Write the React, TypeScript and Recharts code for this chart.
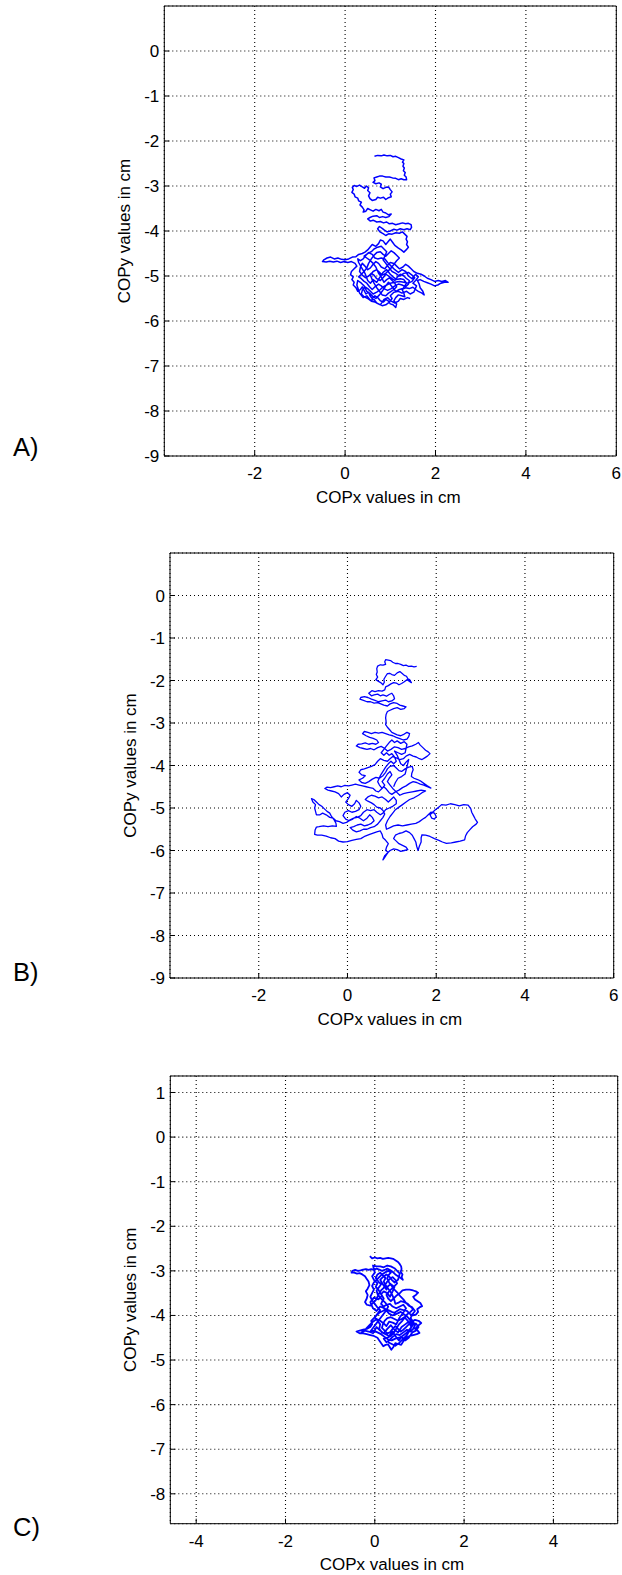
import { LineChart, Line, XAxis, YAxis, CartesianGrid } from 'recharts';

// COP trajectories, [COPx, COPy] in cm
const copA: [number, number][] = [
  [0.65, -2.34], [0.72, -2.32], [0.8, -2.33], [0.86, -2.31], [0.93, -2.33], [1.0, -2.32], [1.06, -2.35], [1.12, -2.34],
  [1.18, -2.37], [1.24, -2.4], [1.3, -2.42], [1.27, -2.47], [1.3, -2.5], [1.28, -2.56], [1.31, -2.6], [1.29, -2.66],
  [1.33, -2.7], [1.31, -2.76], [1.35, -2.8], [1.36, -2.86], [1.3, -2.86], [1.24, -2.84], [1.18, -2.86], [1.12, -2.83],
  [1.05, -2.82], [0.98, -2.8], [0.9, -2.8], [0.83, -2.78], [0.76, -2.78], [0.7, -2.8], [0.64, -2.82], [0.66, -2.88],
  [0.62, -2.92], [0.68, -2.95], [0.75, -2.93], [0.8, -2.96], [0.78, -3.02], [0.84, -3.06], [0.9, -3.03], [0.96, -3.02],
  [1.0, -3.08], [1.04, -3.13], [1.0, -3.18], [1.02, -3.24], [0.96, -3.26], [0.9, -3.3], [0.85, -3.25], [0.78, -3.27],
  [0.72, -3.25], [0.68, -3.3], [0.6, -3.32], [0.55, -3.28], [0.52, -3.22], [0.55, -3.15], [0.5, -3.1], [0.52, -3.04],
  [0.47, -3.0], [0.43, -3.05], [0.38, -3.02], [0.32, -2.98], [0.26, -3.01], [0.2, -2.99], [0.16, -3.03], [0.18, -3.08],
  [0.15, -3.14], [0.2, -3.18], [0.22, -3.24], [0.28, -3.27], [0.3, -3.33], [0.36, -3.36], [0.33, -3.42], [0.38, -3.47],
  [0.42, -3.53], [0.4, -3.58], [0.46, -3.56], [0.5, -3.5], [0.56, -3.53], [0.62, -3.56], [0.68, -3.52], [0.75, -3.55],
  [0.8, -3.52], [0.84, -3.58], [0.9, -3.6], [0.96, -3.64], [1.02, -3.62], [0.97, -3.68], [0.9, -3.7], [0.83, -3.68],
  [0.76, -3.7], [0.7, -3.66], [0.62, -3.67], [0.55, -3.7], [0.5, -3.73], [0.56, -3.78], [0.62, -3.76], [0.7, -3.8],
  [0.78, -3.79], [0.85, -3.82], [0.92, -3.8], [0.98, -3.84], [1.05, -3.83], [1.12, -3.86], [1.2, -3.84], [1.27, -3.82],
  [1.34, -3.84], [1.4, -3.83], [1.46, -3.86], [1.47, -3.92], [1.44, -3.97], [1.37, -3.95], [1.3, -3.97], [1.22, -3.95],
  [1.15, -3.98], [1.08, -3.96], [1.0, -4.0], [0.93, -4.02], [0.87, -3.98], [0.82, -3.94], [0.76, -3.9], [0.72, -3.95],
  [0.77, -4.02], [0.84, -4.06], [0.9, -4.1], [0.97, -4.06], [1.04, -4.07], [1.12, -4.04], [1.2, -4.05], [1.27, -4.02],
  [1.32, -4.07], [1.37, -4.12], [1.35, -4.18], [1.38, -4.24], [1.36, -4.3], [1.4, -4.36], [1.35, -4.42], [1.3, -4.47],
  [1.24, -4.42], [1.18, -4.38], [1.1, -4.32], [1.05, -4.25], [1.0, -4.18], [0.95, -4.24], [0.9, -4.3], [0.84, -4.22],
  [0.78, -4.2], [0.74, -4.28], [0.68, -4.34], [0.6, -4.3], [0.55, -4.36], [0.5, -4.42], [0.44, -4.47], [0.38, -4.5],
  [0.3, -4.52], [0.24, -4.57], [0.16, -4.58], [0.08, -4.62], [0.0, -4.64], [-0.08, -4.63], [-0.16, -4.6], [-0.24, -4.62],
  [-0.32, -4.58], [-0.4, -4.6], [-0.47, -4.64], [-0.5, -4.68], [-0.42, -4.69], [-0.34, -4.67], [-0.26, -4.69], [-0.18, -4.67],
  [-0.1, -4.7], [-0.02, -4.68], [0.06, -4.7], [0.14, -4.68], [0.22, -4.72], [0.26, -4.78], [0.2, -4.84], [0.14, -4.9],
  [0.12, -4.97], [0.18, -5.02], [0.15, -5.08], [0.2, -5.14], [0.18, -5.2], [0.24, -5.26], [0.28, -5.34], [0.34, -5.3],
  [0.38, -5.24], [0.42, -5.32], [0.46, -5.4], [0.52, -5.36], [0.55, -5.44], [0.6, -5.5], [0.66, -5.44], [0.72, -5.48],
  [0.78, -5.55], [0.85, -5.58], [0.9, -5.52], [0.96, -5.56], [1.0, -5.62], [1.06, -5.64], [1.12, -5.7], [1.14, -5.62],
  [1.08, -5.55], [1.12, -5.48], [1.18, -5.42], [1.25, -5.44], [1.32, -5.46], [1.3, -5.38], [1.26, -5.3], [1.34, -5.26],
  [1.42, -5.28], [1.5, -5.25], [1.56, -5.3], [1.62, -5.34], [1.7, -5.38], [1.75, -5.42], [1.72, -5.34], [1.66, -5.26],
  [1.64, -5.18], [1.6, -5.1], [1.66, -5.08], [1.74, -5.12], [1.82, -5.15], [1.9, -5.18], [1.98, -5.22], [2.05, -5.2],
  [2.12, -5.16], [2.2, -5.14], [2.28, -5.14], [2.22, -5.1], [2.14, -5.12], [2.06, -5.1], [1.98, -5.12], [1.9, -5.08],
  [1.82, -5.05], [1.75, -5.0], [1.68, -4.96], [1.6, -4.94], [1.52, -4.9], [1.46, -4.84], [1.4, -4.78], [1.34, -4.74],
  [1.28, -4.8], [1.2, -4.84], [1.14, -4.78], [1.08, -4.72], [1.0, -4.7], [0.94, -4.76], [0.88, -4.84], [0.8, -4.8],
  [0.74, -4.72], [0.68, -4.68], [0.62, -4.74], [0.56, -4.82], [0.5, -4.86], [0.44, -4.78], [0.38, -4.72], [0.34, -4.8],
  [0.32, -4.9], [0.38, -4.98], [0.45, -5.04], [0.52, -5.0], [0.58, -4.94], [0.64, -4.98], [0.7, -5.06], [0.78, -5.1],
  [0.84, -5.04], [0.9, -4.96], [0.96, -5.0], [1.04, -5.06], [1.1, -5.1], [1.16, -5.02], [1.22, -4.96], [1.3, -5.0],
  [1.36, -5.06], [1.42, -5.1], [1.4, -5.18], [1.34, -5.24], [1.26, -5.2], [1.18, -5.18], [1.1, -5.22], [1.02, -5.28],
  [0.94, -5.32], [0.86, -5.28], [0.8, -5.22], [0.74, -5.18], [0.66, -5.24], [0.6, -5.3], [0.54, -5.24], [0.48, -5.16],
  [0.42, -5.12], [0.36, -5.06], [0.3, -5.02], [0.36, -4.96], [0.42, -4.9], [0.48, -4.82], [0.52, -4.72], [0.58, -4.62],
  [0.64, -4.54], [0.7, -4.48], [0.78, -4.46], [0.84, -4.52], [0.9, -4.56], [0.96, -4.5], [1.02, -4.44], [1.08, -4.48],
  [1.14, -4.54], [1.2, -4.6], [1.14, -4.66], [1.08, -4.74], [1.02, -4.82], [0.96, -4.88], [0.9, -4.94], [0.82, -4.98],
  [0.76, -4.92], [0.7, -4.86], [0.62, -4.9], [0.56, -4.98], [0.6, -5.08], [0.64, -5.16], [0.7, -5.26], [0.76, -5.34],
  [0.82, -5.42], [0.9, -5.44], [0.96, -5.38], [1.02, -5.34], [1.08, -5.3], [1.14, -5.24], [1.1, -5.16], [1.04, -5.1],
  [0.98, -5.04], [0.92, -5.08], [0.86, -5.14], [0.8, -5.02], [0.74, -4.94], [0.68, -4.8], [0.62, -4.72], [0.56, -4.66],
  [0.48, -4.6], [0.42, -4.56], [0.5, -4.5], [0.58, -4.46], [0.64, -4.4], [0.72, -4.36], [0.8, -4.34], [0.86, -4.4],
  [0.92, -4.46], [0.88, -4.56], [0.84, -4.64], [0.9, -4.72], [0.96, -4.8], [1.04, -4.9], [1.12, -4.94], [1.2, -5.0],
  [1.3, -4.94], [1.4, -4.92], [1.48, -4.98], [1.54, -5.04], [1.48, -5.12], [1.4, -5.16], [1.3, -5.14], [1.2, -5.12],
  [1.1, -5.14], [1.0, -5.16], [0.92, -5.2], [0.84, -5.24], [0.78, -5.3], [0.7, -5.36], [0.62, -5.4], [0.56, -5.34],
  [0.5, -5.28], [0.44, -5.24], [0.38, -5.32], [0.36, -5.4], [0.42, -5.46], [0.5, -5.5], [0.58, -5.56], [0.66, -5.58],
  [0.74, -5.62], [0.82, -5.66], [0.9, -5.64], [0.98, -5.58], [1.04, -5.5], [1.0, -5.44], [1.08, -5.36], [1.18, -5.34],
  [1.26, -5.38], [1.36, -5.34], [1.44, -5.4], [1.52, -5.36], [1.58, -5.22], [1.5, -5.16], [1.56, -5.1], [1.62, -5.02],
  [1.56, -4.96], [1.48, -5.06], [1.4, -5.0], [1.34, -4.9], [1.26, -4.86], [1.18, -4.92], [1.1, -4.86], [1.02, -4.78],
  [0.94, -4.7], [0.88, -4.62], [0.8, -4.6], [0.72, -4.62], [0.66, -4.6], [0.6, -4.52], [0.52, -4.48], [0.46, -4.54],
  [0.4, -4.62], [0.34, -4.66], [0.28, -4.62], [0.3, -4.7], [0.38, -4.84], [0.44, -4.94], [0.5, -5.1], [0.56, -5.16],
  [0.62, -5.08], [0.7, -5.14], [0.76, -5.04], [0.84, -4.92], [0.92, -4.86], [1.0, -4.96], [1.06, -5.02], [1.14, -5.08],
  [1.22, -5.06], [1.3, -5.08], [1.36, -5.16], [1.28, -5.28], [1.2, -5.3], [1.12, -5.34], [1.04, -5.24], [0.96, -5.14],
  [0.9, -5.22], [0.82, -5.34], [0.76, -5.42], [0.68, -5.5], [0.62, -5.46], [0.54, -5.38], [0.48, -5.34], [0.42, -5.22],
  [0.36, -5.16], [0.28, -5.1], [0.26, -5.2], [0.32, -5.38], [0.4, -5.48], [0.48, -5.44], [0.56, -5.54], [0.64, -5.52],
  [0.7, -5.6], [0.78, -5.64], [0.86, -5.52], [0.94, -5.48], [1.02, -5.56], [1.1, -5.6], [1.18, -5.56], [1.22, -5.5],
  [1.3, -5.52], [1.38, -5.48], [1.44, -5.5],
];

const copB: [number, number][] = [
  [1.56, -1.67], [1.5, -1.68], [1.44, -1.66], [1.38, -1.67], [1.32, -1.64], [1.26, -1.65], [1.2, -1.62], [1.14, -1.6],
  [1.08, -1.6], [1.02, -1.57], [0.97, -1.53], [0.92, -1.52], [0.86, -1.51], [0.84, -1.56], [0.86, -1.62], [0.8, -1.64],
  [0.74, -1.63], [0.68, -1.66], [0.66, -1.72], [0.67, -1.8], [0.65, -1.86], [0.68, -1.92], [0.64, -1.98], [0.7, -2.02],
  [0.76, -2.06], [0.8, -2.1], [0.83, -2.04], [0.82, -1.97], [0.86, -1.9], [0.9, -1.84], [0.95, -1.83], [1.0, -1.86],
  [1.06, -1.88], [1.12, -1.82], [1.18, -1.79], [1.24, -1.84], [1.28, -1.88], [1.33, -1.9], [1.36, -1.96], [1.4, -1.98],
  [1.44, -2.05], [1.4, -2.02], [1.34, -1.98], [1.28, -2.03], [1.22, -2.07], [1.16, -2.1], [1.1, -2.06], [1.04, -2.05],
  [0.98, -2.08], [0.92, -2.12], [0.86, -2.15], [0.84, -2.22], [0.78, -2.25], [0.7, -2.24], [0.62, -2.26], [0.55, -2.24],
  [0.48, -2.3], [0.54, -2.36], [0.6, -2.34], [0.68, -2.32], [0.74, -2.36], [0.8, -2.34], [0.88, -2.37], [0.94, -2.33],
  [1.0, -2.3], [1.04, -2.36], [1.06, -2.43], [1.0, -2.48], [0.92, -2.5], [0.86, -2.46], [0.78, -2.48], [0.7, -2.5],
  [0.62, -2.47], [0.54, -2.44], [0.46, -2.4], [0.38, -2.38], [0.3, -2.4], [0.28, -2.44], [0.36, -2.47], [0.44, -2.5],
  [0.52, -2.5], [0.6, -2.53], [0.68, -2.52], [0.75, -2.55], [0.82, -2.58], [0.9, -2.6], [0.96, -2.55], [1.04, -2.52],
  [1.12, -2.54], [1.18, -2.58], [1.25, -2.6], [1.32, -2.62], [1.28, -2.66], [1.2, -2.68], [1.12, -2.64], [1.04, -2.66],
  [0.96, -2.7], [0.9, -2.73], [0.87, -2.8], [0.86, -2.88], [0.87, -2.96], [0.86, -3.04], [0.9, -3.1], [0.95, -3.16],
  [1.0, -3.22], [1.06, -3.25], [1.12, -3.28], [1.2, -3.3], [1.28, -3.26], [1.34, -3.22], [1.4, -3.25], [1.38, -3.32],
  [1.34, -3.38], [1.26, -3.4], [1.18, -3.37], [1.1, -3.34], [1.02, -3.3], [0.94, -3.28], [0.86, -3.25], [0.78, -3.22],
  [0.7, -3.24], [0.62, -3.22], [0.54, -3.25], [0.46, -3.22], [0.38, -3.2], [0.34, -3.25], [0.42, -3.3], [0.5, -3.34],
  [0.58, -3.36], [0.66, -3.4], [0.7, -3.46], [0.64, -3.5], [0.56, -3.48], [0.48, -3.5], [0.4, -3.47], [0.32, -3.49],
  [0.24, -3.5], [0.2, -3.54], [0.28, -3.58], [0.36, -3.6], [0.44, -3.62], [0.52, -3.6], [0.6, -3.63], [0.68, -3.58],
  [0.76, -3.55], [0.84, -3.6], [0.9, -3.66], [0.98, -3.62], [1.06, -3.56], [1.14, -3.58], [1.22, -3.62], [1.3, -3.6],
  [1.38, -3.56], [1.46, -3.54], [1.54, -3.5], [1.6, -3.46], [1.64, -3.52], [1.7, -3.58], [1.76, -3.64], [1.82, -3.68],
  [1.86, -3.72], [1.8, -3.78], [1.74, -3.82], [1.68, -3.86], [1.62, -3.84], [1.55, -3.8], [1.48, -3.78], [1.4, -3.74],
  [1.32, -3.78], [1.26, -3.84], [1.18, -3.86], [1.1, -3.82], [1.02, -3.79], [0.96, -3.84], [0.9, -3.9], [0.82, -3.88],
  [0.74, -3.84], [0.68, -3.9], [0.62, -3.98], [0.54, -4.02], [0.46, -4.05], [0.38, -4.08], [0.3, -4.1], [0.26, -4.16],
  [0.32, -4.22], [0.4, -4.24], [0.34, -4.3], [0.26, -4.34], [0.32, -4.4], [0.4, -4.42], [0.48, -4.38], [0.56, -4.32],
  [0.64, -4.28], [0.72, -4.3], [0.8, -4.24], [0.86, -4.16], [0.9, -4.08], [0.96, -4.02], [1.04, -4.0], [1.1, -4.06],
  [1.16, -4.12], [1.22, -4.14], [1.3, -4.08], [1.38, -4.04], [1.46, -4.02], [1.48, -4.1], [1.45, -4.18], [1.44, -4.26],
  [1.5, -4.3], [1.58, -4.33], [1.64, -4.36], [1.72, -4.42], [1.8, -4.48], [1.88, -4.53], [1.8, -4.5], [1.72, -4.46],
  [1.64, -4.44], [1.56, -4.4], [1.48, -4.38], [1.4, -4.42], [1.32, -4.48], [1.24, -4.52], [1.16, -4.58], [1.08, -4.62],
  [1.0, -4.68], [0.94, -4.64], [0.88, -4.56], [0.82, -4.5], [0.76, -4.56], [0.7, -4.62], [0.64, -4.6], [0.58, -4.54],
  [0.5, -4.52], [0.42, -4.5], [0.34, -4.48], [0.26, -4.46], [0.18, -4.44], [0.1, -4.46], [0.02, -4.48], [-0.06, -4.47],
  [-0.14, -4.5], [-0.22, -4.48], [-0.3, -4.5], [-0.38, -4.52], [-0.46, -4.51], [-0.51, -4.54], [-0.44, -4.58], [-0.36, -4.6],
  [-0.28, -4.62], [-0.2, -4.66], [-0.14, -4.74], [-0.08, -4.68], [0.0, -4.64], [0.06, -4.7], [0.02, -4.78], [-0.04, -4.86],
  [0.02, -4.92], [0.1, -4.96], [0.16, -4.9], [0.2, -4.82], [0.26, -4.88], [0.3, -4.96], [0.26, -5.04], [0.18, -5.08],
  [0.1, -5.1], [0.02, -5.06], [-0.06, -5.1], [-0.1, -5.18], [-0.04, -5.26], [0.04, -5.3], [0.12, -5.26], [0.2, -5.2],
  [0.28, -5.24], [0.36, -5.3], [0.44, -5.24], [0.5, -5.16], [0.56, -5.22], [0.6, -5.3], [0.54, -5.36], [0.46, -5.4],
  [0.38, -5.42], [0.3, -5.38], [0.22, -5.4], [0.14, -5.44], [0.06, -5.46], [0.12, -5.52], [0.2, -5.56], [0.28, -5.54],
  [0.36, -5.5], [0.44, -5.5], [0.52, -5.46], [0.6, -5.44], [0.68, -5.38], [0.74, -5.3], [0.8, -5.22], [0.84, -5.14],
  [0.8, -5.06], [0.74, -5.0], [0.66, -4.98], [0.6, -4.92], [0.54, -4.88], [0.46, -4.84], [0.4, -4.8], [0.46, -4.74],
  [0.54, -4.7], [0.62, -4.72], [0.7, -4.76], [0.78, -4.74], [0.86, -4.8], [0.92, -4.86], [0.98, -4.8], [1.04, -4.74],
  [1.1, -4.82], [1.1, -4.9], [1.02, -4.96], [0.94, -5.0], [0.86, -5.04], [0.8, -5.12], [0.74, -5.16], [0.66, -5.1],
  [0.6, -5.04], [0.52, -5.06], [0.44, -5.04], [0.36, -5.1], [0.3, -5.18], [0.22, -5.22], [0.14, -5.24], [0.06, -5.28],
  [-0.02, -5.34], [-0.1, -5.36], [-0.18, -5.32], [-0.26, -5.3], [-0.32, -5.24], [-0.4, -5.22], [-0.48, -5.16], [-0.56, -5.12],
  [-0.62, -5.16], [-0.7, -5.16], [-0.72, -5.08], [-0.74, -5.0], [-0.72, -4.92], [-0.78, -4.86], [-0.81, -4.78], [-0.76, -4.8],
  [-0.7, -4.86], [-0.64, -4.92], [-0.58, -4.96], [-0.52, -5.02], [-0.46, -5.08], [-0.4, -5.12], [-0.36, -5.2], [-0.3, -5.28],
  [-0.26, -5.36], [-0.25, -5.43], [-0.34, -5.42], [-0.44, -5.44], [-0.54, -5.42], [-0.64, -5.44], [-0.7, -5.45], [-0.73, -5.52],
  [-0.74, -5.62], [-0.68, -5.64], [-0.58, -5.64], [-0.48, -5.66], [-0.38, -5.7], [-0.28, -5.72], [-0.2, -5.78], [-0.1, -5.8],
  [0.0, -5.79], [0.1, -5.76], [0.2, -5.74], [0.3, -5.72], [0.4, -5.66], [0.5, -5.62], [0.58, -5.59], [0.66, -5.56],
  [0.74, -5.54], [0.78, -5.62], [0.8, -5.7], [0.86, -5.76], [0.92, -5.84], [0.88, -5.92], [0.86, -6.0], [0.92, -6.04],
  [0.88, -6.1], [0.84, -6.16], [0.8, -6.22], [0.84, -6.12], [0.9, -6.06], [0.96, -6.0], [1.04, -5.96], [1.12, -5.98],
  [1.2, -6.02], [1.28, -6.0], [1.36, -5.98], [1.32, -5.92], [1.24, -5.88], [1.16, -5.84], [1.1, -5.78], [1.04, -5.72],
  [1.08, -5.64], [1.16, -5.6], [1.24, -5.58], [1.32, -5.54], [1.4, -5.58], [1.46, -5.64], [1.5, -5.72], [1.54, -5.8],
  [1.56, -5.9], [1.59, -6.0], [1.62, -5.9], [1.66, -5.8], [1.66, -5.7], [1.68, -5.63], [1.76, -5.64], [1.86, -5.67],
  [1.96, -5.72], [2.06, -5.76], [2.14, -5.8], [2.23, -5.83], [2.34, -5.82], [2.44, -5.8], [2.54, -5.78], [2.64, -5.75],
  [2.66, -5.66], [2.7, -5.58], [2.76, -5.51], [2.82, -5.44], [2.9, -5.38], [2.93, -5.34], [2.88, -5.26], [2.84, -5.18],
  [2.8, -5.1], [2.78, -5.02], [2.72, -4.93], [2.62, -4.92], [2.52, -4.95], [2.42, -4.92], [2.32, -4.9], [2.22, -4.93],
  [2.12, -4.92], [2.06, -4.98], [1.98, -5.04], [1.92, -5.1], [1.86, -5.16], [1.9, -5.24], [1.96, -5.26], [2.0, -5.2],
  [1.96, -5.12], [1.88, -5.1], [1.82, -5.16], [1.76, -5.22], [1.7, -5.26], [1.62, -5.32], [1.54, -5.36], [1.44, -5.38],
  [1.34, -5.4], [1.24, -5.42], [1.14, -5.4], [1.04, -5.42], [0.96, -5.46], [0.88, -5.5], [0.86, -5.4], [0.9, -5.3],
  [0.96, -5.2], [1.02, -5.12], [1.08, -5.04], [1.16, -4.98], [1.24, -4.92], [1.32, -4.86], [1.4, -4.8], [1.5, -4.76],
  [1.6, -4.7], [1.68, -4.64], [1.76, -4.6], [1.66, -4.58], [1.56, -4.6], [1.46, -4.62], [1.36, -4.64], [1.26, -4.66],
  [1.18, -4.7], [1.1, -4.62], [1.02, -4.54], [0.96, -4.46], [0.9, -4.38], [0.94, -4.3], [1.0, -4.22], [0.96, -4.14],
  [0.9, -4.2], [0.84, -4.3], [0.78, -4.38], [0.84, -4.46], [0.78, -4.54], [0.72, -4.46], [0.68, -4.38], [0.74, -4.24],
  [0.8, -4.14], [0.86, -4.04], [0.92, -3.96], [0.98, -3.9], [1.04, -3.96], [1.1, -3.9], [1.06, -3.8], [1.0, -3.72],
  [0.94, -3.76], [0.88, -3.7], [0.82, -3.76], [0.76, -3.7], [0.82, -3.62], [0.88, -3.54], [0.94, -3.46], [1.0, -3.4],
  [1.06, -3.46], [1.12, -3.42], [1.2, -3.48], [1.28, -3.44], [1.34, -3.5], [1.3, -3.7], [1.22, -3.74], [1.14, -3.7],
  [1.06, -3.66], [1.12, -3.76], [1.2, -3.96], [1.26, -4.0], [1.32, -3.92], [1.38, -3.86], [1.3, -4.2], [1.22, -4.26],
  [1.14, -4.3], [1.08, -4.4], [1.04, -4.5],
];

const copC: [number, number][] = [
  [-0.11, -2.67], [-0.06, -2.72], [0.0, -2.7], [0.06, -2.72], [0.12, -2.71], [0.18, -2.73], [0.24, -2.72], [0.3, -2.71],
  [0.36, -2.72], [0.41, -2.73], [0.46, -2.76], [0.52, -2.8], [0.56, -2.85], [0.59, -2.9], [0.6, -2.96], [0.58, -3.02],
  [0.62, -3.08], [0.6, -3.14], [0.63, -3.2], [0.58, -3.16], [0.52, -3.12], [0.46, -3.08], [0.4, -3.02], [0.34, -2.98],
  [0.28, -2.95], [0.22, -2.98], [0.16, -3.0], [0.1, -2.97], [0.04, -2.95], [-0.02, -2.98], [-0.08, -2.96], [-0.14, -2.98],
  [-0.2, -2.96], [-0.26, -2.97], [-0.32, -2.99], [-0.38, -3.0], [-0.44, -2.98], [-0.5, -3.0], [-0.52, -3.04], [-0.46, -3.04],
  [-0.4, -3.06], [-0.34, -3.05], [-0.28, -3.08], [-0.22, -3.12], [-0.18, -3.18], [-0.14, -3.24], [-0.12, -3.32], [-0.16, -3.4],
  [-0.2, -3.46], [-0.16, -3.54], [-0.18, -3.62], [-0.22, -3.7], [-0.18, -3.76], [-0.1, -3.78], [-0.04, -3.72], [0.02, -3.66],
  [0.06, -3.58], [0.1, -3.5], [0.14, -3.44], [0.2, -3.38], [0.24, -3.3], [0.28, -3.24], [0.34, -3.18], [0.4, -3.14],
  [0.46, -3.2], [0.5, -3.28], [0.44, -3.34], [0.38, -3.4], [0.32, -3.46], [0.26, -3.54], [0.3, -3.62], [0.36, -3.68],
  [0.42, -3.62], [0.48, -3.56], [0.56, -3.5], [0.62, -3.44], [0.7, -3.42], [0.78, -3.42], [0.86, -3.44], [0.92, -3.46],
  [0.97, -3.49], [0.92, -3.54], [0.86, -3.58], [0.9, -3.64], [0.96, -3.68], [1.02, -3.72], [1.06, -3.79], [1.0, -3.82],
  [0.95, -3.86], [0.97, -3.92], [0.92, -3.98], [0.85, -4.0], [0.78, -3.96], [0.72, -3.9], [0.64, -3.88], [0.56, -3.86],
  [0.5, -3.9], [0.44, -3.94], [0.38, -3.92], [0.3, -3.88], [0.24, -3.86], [0.18, -3.9], [0.1, -3.94], [0.04, -4.0],
  [-0.02, -4.06], [-0.08, -4.12], [-0.06, -4.2], [-0.1, -4.26], [-0.18, -4.3], [-0.26, -4.32], [-0.34, -4.34], [-0.41, -4.36],
  [-0.34, -4.4], [-0.26, -4.4], [-0.18, -4.42], [-0.1, -4.44], [-0.02, -4.46], [0.06, -4.5], [0.1, -4.56], [0.14, -4.62],
  [0.19, -4.69], [0.24, -4.66], [0.3, -4.65], [0.34, -4.72], [0.37, -4.77], [0.42, -4.7], [0.46, -4.62], [0.52, -4.64],
  [0.59, -4.66], [0.64, -4.58], [0.7, -4.5], [0.78, -4.46], [0.86, -4.44], [0.94, -4.42], [1.0, -4.39], [0.96, -4.34],
  [0.9, -4.3], [0.96, -4.24], [1.04, -4.17], [0.98, -4.12], [0.9, -4.1], [0.82, -4.14], [0.76, -4.2], [0.7, -4.26],
  [0.64, -4.32], [0.58, -4.36], [0.52, -4.3], [0.46, -4.24], [0.4, -4.3], [0.34, -4.38], [0.28, -4.4], [0.22, -4.34],
  [0.16, -4.28], [0.18, -4.2], [0.22, -4.12], [0.28, -4.06], [0.36, -4.04], [0.44, -4.08], [0.52, -4.12], [0.6, -4.08],
  [0.66, -4.04], [0.72, -4.1], [0.78, -4.18], [0.82, -4.26], [0.76, -4.34], [0.7, -4.4], [0.62, -4.46], [0.54, -4.5],
  [0.46, -4.52], [0.38, -4.56], [0.3, -4.54], [0.22, -4.48], [0.14, -4.42], [0.06, -4.38], [-0.02, -4.34], [-0.1, -4.36],
  [-0.04, -4.28], [0.02, -4.2], [0.08, -4.12], [0.14, -4.04], [0.2, -3.96], [0.26, -3.88], [0.3, -3.8], [0.24, -3.72],
  [0.18, -3.66], [0.12, -3.6], [0.06, -3.52], [0.04, -3.44], [0.1, -3.36], [0.14, -3.3], [0.08, -3.24], [0.02, -3.16],
  [0.06, -3.08], [0.12, -3.04], [0.18, -3.1], [0.24, -3.16], [0.2, -3.24], [0.24, -3.32], [0.3, -3.4], [0.36, -3.48],
  [0.4, -3.56], [0.44, -3.66], [0.46, -3.74], [0.52, -3.72], [0.58, -3.68], [0.66, -3.7], [0.74, -3.74], [0.8, -3.8],
  [0.86, -3.86], [0.8, -3.92], [0.72, -3.98], [0.66, -4.06], [0.6, -4.14], [0.54, -4.2], [0.48, -4.3], [0.42, -4.4],
  [0.36, -4.46], [0.28, -4.5], [0.2, -4.52], [0.26, -4.6], [0.32, -4.56], [0.4, -4.48], [0.48, -4.42], [0.56, -4.44],
  [0.64, -4.38], [0.72, -4.32], [0.8, -4.36], [0.86, -4.3], [0.9, -4.22], [0.86, -4.14], [0.8, -4.06], [0.84, -3.98],
  [0.9, -3.9], [0.84, -3.82], [0.76, -3.78], [0.7, -3.72], [0.64, -3.64], [0.58, -3.58], [0.5, -3.48], [0.44, -3.42],
  [0.38, -3.34], [0.32, -3.26], [0.28, -3.18], [0.3, -3.1], [0.36, -3.04], [0.3, -3.0], [0.22, -3.04], [0.16, -3.08],
  [0.1, -3.14], [0.04, -3.2], [-0.02, -3.26], [-0.06, -3.34], [-0.02, -3.42], [-0.06, -3.5], [-0.1, -3.58], [-0.06, -3.66],
  [0.0, -3.74], [0.06, -3.82], [0.12, -3.88], [0.06, -3.96], [0.0, -4.04], [0.06, -4.12], [0.12, -4.2], [0.1, -4.3],
  [0.16, -4.38], [0.24, -4.42], [0.32, -4.46], [0.4, -4.36], [0.46, -4.46], [0.54, -4.56], [0.6, -4.48], [0.68, -4.56],
  [0.76, -4.5], [0.84, -4.38], [0.92, -4.34], [0.98, -4.26], [0.92, -4.18], [0.84, -4.22], [0.76, -4.14], [0.68, -4.2],
  [0.6, -4.26], [0.52, -4.38], [0.44, -4.32], [0.36, -4.22], [0.28, -4.3], [0.2, -4.4], [0.12, -4.34], [0.04, -4.26],
  [-0.04, -4.4], [-0.14, -4.36], [-0.22, -4.34], [-0.3, -4.38], [-0.2, -4.3], [-0.12, -4.22], [-0.04, -4.14], [0.04, -4.08],
  [0.12, -4.12], [0.2, -4.18], [0.26, -4.24], [0.32, -4.14], [0.4, -4.16], [0.48, -4.2], [0.56, -4.04], [0.62, -3.96],
  [0.7, -3.84], [0.64, -3.76], [0.56, -3.8], [0.48, -3.84], [0.4, -3.8], [0.34, -3.74], [0.26, -3.76], [0.2, -3.8],
  [0.14, -3.74], [0.2, -3.62], [0.14, -3.52], [0.2, -3.46], [0.28, -3.5], [0.34, -3.58], [0.4, -3.46], [0.44, -3.36],
  [0.36, -3.3], [0.3, -3.34], [0.26, -3.42], [0.18, -3.3], [0.12, -3.2], [0.18, -3.14], [0.26, -3.08], [0.32, -3.12],
  [0.38, -3.2], [0.44, -3.26], [0.52, -3.2], [0.56, -3.06], [0.5, -3.0], [0.44, -2.94], [0.36, -2.9], [0.28, -2.88],
  [0.2, -2.92], [0.12, -2.9], [0.04, -2.9], [-0.04, -2.88], [0.0, -3.04], [-0.06, -3.12], [-0.02, -3.2], [0.06, -3.28],
  [0.02, -3.36], [0.08, -3.42], [0.16, -3.56], [0.08, -3.64], [-0.02, -3.6], [-0.1, -3.7], [-0.04, -3.84], [0.04, -3.9],
  [0.12, -3.8], [0.22, -3.84], [0.32, -3.96], [0.4, -4.0], [0.5, -3.96], [0.58, -3.92], [0.66, -3.98], [0.74, -4.04],
  [0.8, -4.12], [0.86, -4.2], [0.8, -4.3], [0.72, -4.44], [0.64, -4.52], [0.54, -4.62], [0.46, -4.68], [0.38, -4.64],
  [0.3, -4.6],
];

const xTicksAB = [-2, 0, 2, 4, 6];
const yTicksAB = [0, -1, -2, -3, -4, -5, -6, -7, -8, -9];
const xTicksC = [-4, -2, 0, 2, 4];
const yTicksC = [1, 0, -1, -2, -3, -4, -5, -6, -7, -8];

const FONT = 'Liberation Sans, Arial, sans-serif';
const PAGE_W = 622;

type PanelProps = {
  data: [number, number][];
  xDomain: [number, number];
  yDomain: [number, number];
  xTicks: number[];
  yTicks: number[];
  left: number;
  top: number;
  w: number;
  h: number;
  letter: string;
  letterTop: number;
  lineW: number;
};

function Panel({ data, xDomain, yDomain, xTicks, yTicks, left, top, w, h, letter, letterTop, lineW }: PanelProps) {
  const rows = data.map(([x, y]) => ({ x, y }));
  const axisCommon = { stroke: '#000', strokeWidth: 1, allowDataOverflow: true, interval: 0 as const };
  return (
    <>
      <div style={{ position: 'absolute', left: 13, top: letterTop, fontFamily: FONT, fontSize: 25.5, lineHeight: 1, color: '#000' }}>
        {letter}
      </div>
      <div style={{ position: 'absolute', left: 0, top: top - 10 }}>
        <LineChart
          width={PAGE_W}
          height={h + 80}
          data={rows}
          margin={{ top: 9, right: PAGE_W - left - w - 1, bottom: 10, left: 0 }}
        >
          <CartesianGrid stroke="#000" strokeWidth={1.1} strokeDasharray="1 3" />
          <XAxis
            {...axisCommon}
            dataKey="x"
            type="number"
            domain={xDomain}
            ticks={xTicks}
            height={60}
            tickSize={-5}
            tickMargin={16}
            tick={{ fontSize: 17, fill: '#000', fontFamily: FONT }}
            label={{
              content: ({ viewBox }: any) => (
                <text x={viewBox.x + viewBox.width / 2 - 2} y={viewBox.y + 41} textAnchor="middle" dominantBaseline="central" fontSize={17} fontFamily={FONT} fill="#000">
                  COPx values in cm
                </text>
              ),
            }}
          />
          <XAxis {...axisCommon} xAxisId="top" orientation="top" dataKey="x" type="number" domain={xDomain} ticks={xTicks} height={1} tickSize={-5} tick={false} />
          <YAxis
            {...axisCommon}
            dataKey="y"
            type="number"
            domain={yDomain}
            ticks={yTicks}
            width={left}
            tickSize={-5}
            tickMargin={10}
            tick={{ fontSize: 17, fill: '#000', fontFamily: FONT }}
            label={{
              content: ({ viewBox }: any) => {
                const cx = viewBox.x + viewBox.width - 40;
                const cy = viewBox.y + viewBox.height / 2;
                return (
                  <text x={cx} y={cy} transform={`rotate(-90 ${cx} ${cy})`} textAnchor="middle" dominantBaseline="central" fontSize={17} fontFamily={FONT} fill="#000">
                    COPy values in cm
                  </text>
                );
              },
            }}
          />
          <YAxis {...axisCommon} yAxisId="right" orientation="right" dataKey="y" type="number" domain={yDomain} ticks={yTicks} width={1} tickSize={-5} tick={false} />
          <Line type="linear" dataKey="y" stroke="#0000ff" strokeWidth={lineW} strokeLinejoin="round" dot={false} isAnimationActive={false} />
        </LineChart>
      </div>
    </>
  );
}

export default function App() {
  return (
    <div style={{ position: 'absolute', left: 0, top: 0, width: PAGE_W, height: 1575, background: '#fff', overflow: 'hidden' }}>
      <Panel data={copA} xDomain={[-4, 6]} yDomain={[-9, 1]} xTicks={xTicksAB} yTicks={yTicksAB}
        left={164.3} top={6} w={452} h={450} letter="A)" letterTop={435} lineW={1.5} />
      <Panel data={copB} xDomain={[-4, 6]} yDomain={[-9, 1]} xTicks={xTicksAB} yTicks={yTicksAB}
        left={170} top={553.3} w={443.7} h={425} letter="B)" letterTop={960} lineW={1.3} />
      <Panel data={copC} xDomain={[-4.58, 5.44]} yDomain={[-8.67, 1.37]} xTicks={xTicksC} yTicks={yTicksC}
        left={170.3} top={1076} w={447.4} h={447.7} letter="C)" letterTop={1515} lineW={1.8} />
    </div>
  );
}
